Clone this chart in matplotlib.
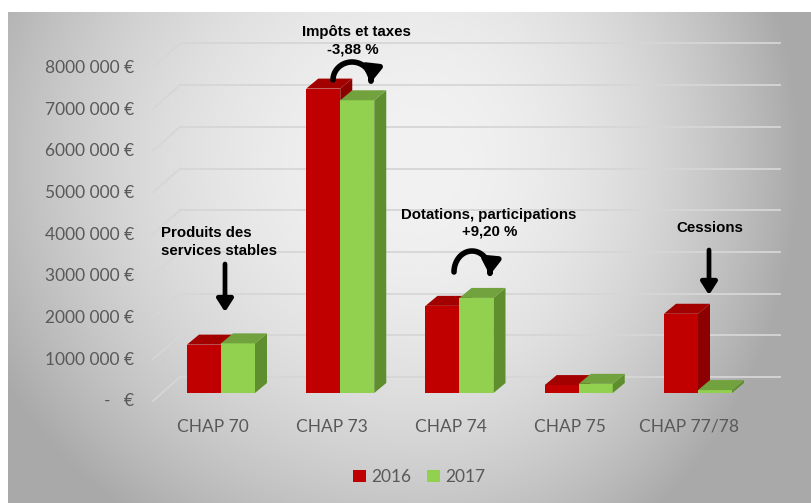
import numpy as np
import matplotlib.pyplot as plt
from matplotlib.patches import Polygon, FancyArrowPatch
from matplotlib.path import Path
from matplotlib.transforms import Affine2D

# data
categories = ['CHAP 70', 'CHAP 73', 'CHAP 74', 'CHAP 75', 'CHAP 77/78']
years = ['2016', '2017']
values_2016 = [1160000, 7300000, 2090000, 190000, 1900000]
values_2017 = [1190000, 7020000, 2280000, 220000, 70000]
yticks = [0, 1000000, 2000000, 3000000, 4000000, 5000000, 6000000, 7000000, 8000000]
ytick_labels = ['-   €', '1000 000 €', '2000 000 €', '3000 000 €', '4000 000 €',
                '5000 000 €', '6000 000 €', '7000 000 €', '8000 000 €']

# layout (pixels of the 812x503 picture)
W, H = 812, 503
X0, STEP = 221, 119.25       # pixel x of first group centre, spacing
Y0, PXM = 393, 41.7          # pixel y of bar base, pixels per million
BAR_W = 34 / STEP
DDX, DDY = 12 / STEP, 10 / PXM * 1e6          # bar depth
WALL_DX, WALL_DY = 27 / STEP, 24 / PXM * 1e6  # side wall depth
BACK_DY = 16 / PXM * 1e6

red, red_top, red_side = '#c00000', '#a30000', '#8c0000'
green, green_top, green_side = '#92d050', '#72a23d', '#5e8e2e'
grey_txt = '#595959'
grid_c = '#d6d6d6'

fig = plt.figure(figsize=(W / 100, H / 100), dpi=100)
fig.patch.set_facecolor('white')
pix = Affine2D().scale(1 / W, -1 / H).translate(0, 1) + fig.transFigure

# background gradient panel
bg = fig.add_axes([8 / W, 0, (W - 8) / W, (H - 12) / H])
xx, yy = np.meshgrid(np.arange(8, W), np.arange(12, H))
cx, cy = 420, 160
dx = np.where(xx < cx, (xx - cx) / 520, (xx - cx) / 410)
dy = np.where(yy < cy, (yy - cy) / 480, (yy - cy) / 480)
d = np.clip(np.sqrt(dx ** 2 + dy ** 2) / 0.92, 0, 1)
shade = (242 - 72 * d ** 2) / 255
bg.imshow(np.dstack([shade] * 3), aspect='auto', extent=(0, 1, 0, 1))
bg.axis('off')

ax = fig.add_axes([0, 0, 1, 1])
ax.patch.set_alpha(0)
ax.set_xlim(-X0 / STEP, (W - X0) / STEP)
ax.set_ylim((Y0 - H) / PXM * 1e6, Y0 / PXM * 1e6)
ax.axis('off')

# gridlines: back wall + slanted side wall
gx0, gx1 = (180 - X0) / STEP, (780 - X0) / STEP
for g, lab in zip(yticks, ytick_labels):
    yb = g + BACK_DY
    ax.plot([gx0, gx1], [yb, yb], color=grid_c, lw=1.3, zorder=1)
    ax.plot([gx0 - WALL_DX, gx0], [yb - WALL_DY, yb], color=grid_c, lw=1.3, zorder=1)
    ax.text((134 - X0) / STEP, g - 8.5 / PXM * 1e6, lab, ha='right', va='center',
            color=grey_txt, fontsize=12.5, family='Lato')

x = np.arange(len(categories))


def draw_bar(x0, v, front, top, side, z):
    x1 = x0 + BAR_W
    ax.add_patch(Polygon([(x1, 0), (x1 + DDX, DDY), (x1 + DDX, v + DDY), (x1, v)],
                         closed=True, fc=side, ec='none', zorder=z))
    ax.add_patch(Polygon([(x0, v), (x0 + DDX, v + DDY), (x1 + DDX, v + DDY), (x1, v)],
                         closed=True, fc=top, ec='none', zorder=z))


bars16 = ax.bar(x - BAR_W, values_2016, width=BAR_W, align='edge', color=red,
                zorder=3, label=years[0])
bars17 = ax.bar(x, values_2017, width=BAR_W, align='edge', color=green,
                zorder=5, label=years[1])
for i in x:
    draw_bar(i - BAR_W, values_2016[i], red, red_top, red_side, 3)
    draw_bar(i, values_2017[i], green, green_top, green_side, 5)

for i, c in enumerate(categories):
    ax.text(i - 8.5 / STEP, (Y0 - 427) / PXM * 1e6, c, ha='center', va='center',
            color=grey_txt, fontsize=12.5, family='Lato')

leg = fig.legend(handles=[bars16, bars17], loc='center', bbox_to_anchor=(419 / W, 1 - 477 / H),
                 ncol=2, frameon=False, handlelength=0.75, handleheight=0.75,
                 handletextpad=0.3, columnspacing=0.9,
                 prop={'family': 'Lato', 'size': 12.5})
for t in leg.get_texts():
    t.set_color(grey_txt)

# annotations
note = dict(family='Liberation Sans', weight='bold', fontsize=10.8, color='black',
            transform=pix, va='center')
fig.text(356, 32, 'Impôts et taxes', ha='center', **note)
fig.text(353, 49, '-3,88 %', ha='center', **note)
fig.text(161, 233, 'Produits des', ha='left', **note)
fig.text(161, 251, 'services stables', ha='left', **note)
fig.text(489, 215, 'Dotations, participations', ha='center', **note)
fig.text(490, 232, '+9,20 %', ha='center', **note)
fig.text(710, 228, 'Cessions', ha='center', **note)

arrow_kw = dict(arrowstyle='-|>,head_length=0.5,head_width=0.32', mutation_scale=15,
                lw=3.4, color='black', transform=pix, shrinkA=0, shrinkB=0)
for ax_x, ya, yb in [(225, 264, 312), (709, 250, 295)]:
    fig.patches.append(FancyArrowPatch((ax_x, ya), (ax_x, yb), **arrow_kw))

curve_kw = dict(arrow_kw, lw=4, mutation_scale=17)
for cxa, cya, rxa, rya in [(352, 80, 19, 18), (472, 272, 18, 21)]:
    t = np.linspace(np.pi, -0.15, 40)
    pts = np.column_stack([cxa + rxa * np.cos(t), cya - rya * np.sin(t)])
    fig.patches.append(FancyArrowPatch(path=Path(pts), **curve_kw))

plt.savefig('out.png', dpi=100)
